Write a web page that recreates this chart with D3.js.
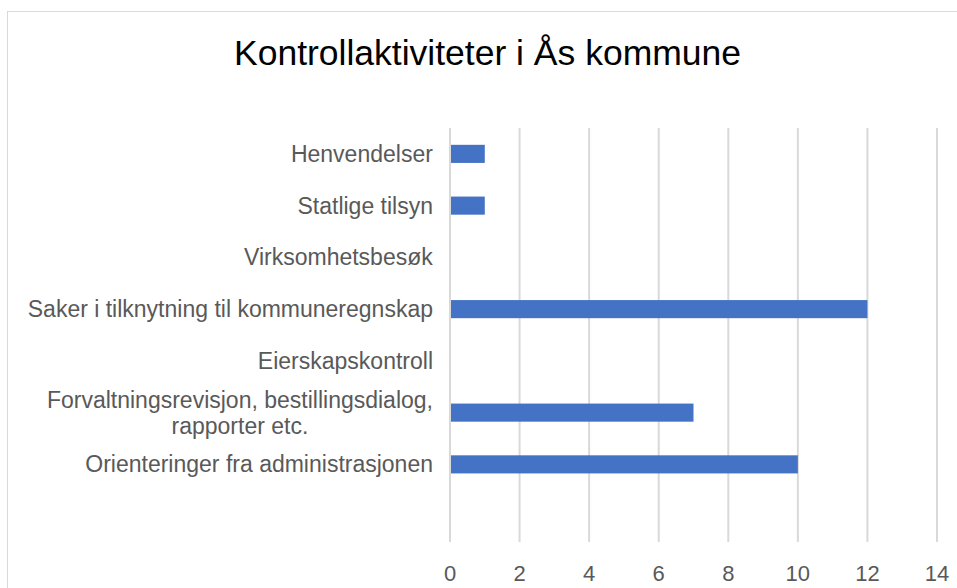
<!DOCTYPE html>
<html>
<head>
<meta charset="utf-8">
<script src="https://cdn.jsdelivr.net/npm/d3@7"></script>
<style>
  body { margin: 0; background: #fff; }
  svg { display: block; }
</style>
</head>
<body>
<div id="app"></div>
<script>
const title = 'Kontrollaktiviteter i Ås kommune';

// top to bottom, the last slot is empty in the original
const categories = [
  ['Henvendelser'],
  ['Statlige tilsyn'],
  ['Virksomhetsbesøk'],
  ['Saker i tilknytning til kommuneregnskap'],
  ['Eierskapskontroll'],
  ['Forvaltningsrevisjon, bestillingsdialog,', 'rapporter etc.'],
  ['Orienteringer fra administrasjonen'],
  ['']
];
const values = [1, 1, 0, 12, 0, 7, 10, 0];
const xTicks = [0, 2, 4, 6, 8, 10, 12, 14];

const width = 957;
const height = 588;
const plot = { left: 450, right: 937, top: 128, bottom: 542 };
const font = '"Liberation Sans", Arial, sans-serif';

const svg = d3.select('#app').append('svg')
  .attr('width', width)
  .attr('height', height);

// chart frame
svg.append('rect')
  .attr('x', 7.5).attr('y', 11.5)
  .attr('width', 970).attr('height', 600)
  .attr('fill', '#fff')
  .attr('stroke', '#d9d9d9');

svg.append('text')
  .attr('x', 487.5).attr('y', 65)
  .attr('text-anchor', 'middle')
  .attr('font-family', font)
  .attr('font-size', 35.5)
  .attr('fill', '#000')
  .text(title);

const x = d3.scaleLinear()
  .domain([0, 14])
  .range([plot.left, plot.right]);

const y = d3.scaleBand()
  .domain(d3.range(categories.length))
  .range([plot.top, plot.bottom])
  .paddingInner(0.65)
  .paddingOuter(0.325);

const yBand = d3.scaleBand()
  .domain(d3.range(categories.length))
  .range([plot.top, plot.bottom]);

// gridlines
svg.append('g')
  .selectAll('line')
  .data(xTicks)
  .enter()
    .append('line')
    .attr('x1', d => x(d)).attr('x2', d => x(d))
    .attr('y1', plot.top).attr('y2', plot.bottom)
    .attr('stroke', '#d9d9d9')
    .attr('stroke-width', 2);

// bars
svg.append('g')
  .selectAll('rect')
  .data(values)
  .enter()
    .append('rect')
    .attr('x', x(0) + 1)
    .attr('y', (d, i) => y(i))
    .attr('width', d => Math.max(0, x(d) - x(0) - 1))
    .attr('height', y.bandwidth())
    .attr('fill', '#4472c4');

// x tick labels
svg.append('g')
  .selectAll('text')
  .data(xTicks)
  .enter()
    .append('text')
    .attr('x', d => x(d))
    .attr('y', 581)
    .attr('text-anchor', 'middle')
    .attr('font-family', font)
    .attr('font-size', 22)
    .attr('fill', '#595959')
    .text(d => d);

// category labels, right aligned block with centred lines
const labelRight = 433;
const lineH = 26;
const labels = svg.append('g')
  .selectAll('text')
  .data(categories)
  .enter()
    .append('text')
    .attr('font-family', font)
    .attr('font-size', 23)
    .attr('fill', '#595959')
    .attr('text-anchor', 'middle');

labels.each(function(lines, i) {
  const t = d3.select(this);
  const cy = yBand(i) + yBand.bandwidth() / 2;
  const y0 = cy - (lines.length - 1) * lineH / 2 + 8;
  lines.forEach((line, j) => {
    t.append('tspan').attr('x', 0).attr('y', y0 + j * lineH).text(line);
  });
  const w = this.getBBox().width;
  t.selectAll('tspan').attr('x', labelRight - w / 2);
});
</script>
</body>
</html>
